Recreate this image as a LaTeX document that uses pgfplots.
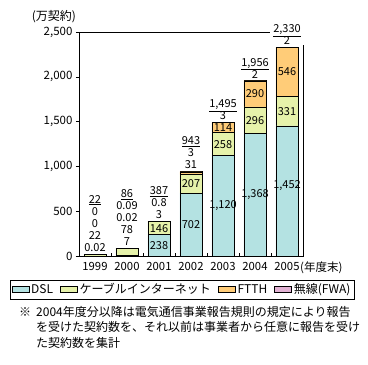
\documentclass[border=0pt]{standalone}
\usepackage{pgfplots}
\pgfplotsset{compat=1.18}
\usepackage{fontspec}
\setmainfont{Noto Sans CJK JP}
\definecolor{dsl}{RGB}{180,226,226}
\definecolor{cab}{RGB}{230,242,170}
\definecolor{ftth}{RGB}{255,204,120}
\definecolor{fwa}{RGB}{226,178,212}
\newcommand\nf{\fontsize{11}{12}\selectfont}
\newcommand\jf{\fontsize{12}{15.5}\selectfont}
\newcommand\ul[1]{\raisebox{0pt}[\height][0pt]{\underline{#1}}}
\tikzset{inl/.style={font=\nf, inner sep=0pt},
  tb/.style={anchor=south, yshift=2pt, inner xsep=3.5pt, inner ysep=0.5pt, fill=white, align=center, font=\nf}}
\begin{document}
\begin{tikzpicture}
\useasboundingbox (0pt,0pt) rectangle (368pt,-365pt);
\begin{axis}[
  at={(79pt,-256pt)}, anchor=south west,
  scale only axis, width=224pt, height=224pt,
  ybar stacked, bar width=22pt,
  xmin=-0.5, xmax=6.5, ymin=0, ymax=2500,
  xtick={0,...,6}, xticklabels={1999,2000,2001,2002,2003,2004,2005},
  minor xtick={0.5,1.5,...,5.5},
  ytick={0,500,...,2500},
  xtick pos=bottom, ytick pos=left,
  tick align=outside, major tick length=3pt, minor tick length=3pt,
  major x tick style={draw=none},
  minor x tick style={yshift=3pt},
  tick style={black, line width=0.6pt},
  axis line style={black, line width=0.7pt},
  scaled y ticks=false,
  y tick label style={font=\fontsize{11.5}{12}\selectfont, /pgf/number format/1000 sep={,}, /pgf/number format/assume math mode=true},
  x tick label style={font=\fontsize{11.3}{12}\selectfont},
  legend style={at={(0.46,-0.1496)}, anchor=center, draw=black, line width=0.6pt,
    font=\fontsize{12}{14}\selectfont, inner sep=1.5pt,
    /tikz/every even column/.append style={column sep=5pt}},
  legend columns=4,
  area legend,
]
\addplot[fill=dsl, draw=black, line width=0.5pt] coordinates {(0,0.02) (1,7) (2,238) (3,702) (4,1120) (5,1368) (6,1452)};
\addplot[fill=cab, draw=black, line width=0.5pt] coordinates {(0,22) (1,78) (2,146) (3,207) (4,258) (5,296) (6,331)};
\addplot[fill=ftth, draw=black, line width=0.5pt] coordinates {(0,0) (1,0.02) (2,3) (3,31) (4,114) (5,290) (6,546)};
\addplot[fill=fwa, draw=black, line width=0.5pt] coordinates {(0,0) (1,0.09) (2,0.8) (3,3) (4,3) (5,2) (6,2)};
\legend{DSL,ケーブルインターネット,FTTH,無線(FWA)}
\coordinate (t0) at (axis cs:0,22);
\coordinate (t1) at (axis cs:1,86);
\coordinate (t2) at (axis cs:2,387);
\coordinate (t3) at (axis cs:3,943);
\coordinate (t4) at (axis cs:4,1495);
\coordinate (t5) at (axis cs:5,1956);
\coordinate (t6) at (axis cs:6,2330);
\coordinate (c1) at (axis cs:2,311);
\coordinate (c2) at (axis cs:2,119);
\coordinate (c3) at (axis cs:3,805);
\coordinate (c4) at (axis cs:3,351);
\coordinate (c5) at (axis cs:4,1435);
\coordinate (c6) at (axis cs:4,1249);
\coordinate (c7) at (axis cs:4,560);
\coordinate (c8) at (axis cs:5,1809);
\coordinate (c9) at (axis cs:5,1516);
\coordinate (c10) at (axis cs:5,684);
\coordinate (c11) at (axis cs:6,2056);
\coordinate (c12) at (axis cs:6,1617);
\coordinate (c13) at (axis cs:6,790);
\end{axis}
\node[inl] at (c1) {146};
\node[inl] at (c2) {238};
\node[inl] at (c3) {207};
\node[inl] at (c4) {702};
\node[inl] at (c5) {114};
\node[inl] at (c6) {258};
\node[inl] at (c7) {1,120};
\node[inl] at (c8) {290};
\node[inl] at (c9) {296};
\node[inl] at (c10) {1,368};
\node[inl] at (c11) {546};
\node[inl] at (c12) {331};
\node[inl] at (c13) {1,452};
\node[tb] at (t0) {\ul{22}\\0\\0\\22\\0.02};
\node[tb] at (t1) {\ul{86}\\0.09\\0.02\\78\\7};
\node[tb] at (t2) {\ul{387}\\0.8\\3};
\node[tb] at (t3) {\ul{943}\\3\\31};
\node[tb] at (t4) {\ul{1,495}\\3};
\node[tb] at (t5) {\ul{1,956}\\2};
\node[tb] at (t6) {\ul{2,330}\\2};
\node[font=\fontsize{12}{12}\selectfont] at (54pt,-17pt) {(万契約)};
\node[font=\fontsize{11.5}{12}\selectfont, anchor=base west, inner sep=0pt] at (300pt,-271pt) {(年度末)};
\node[font=\jf, anchor=base west, inner sep=0pt] at (19pt,-316pt) {※};
\node[font=\jf, anchor=base west, inner sep=0pt] at (36pt,-316pt) {2004年度分以降は電気通信事業報告規則の規定により報告};
\node[font=\jf, anchor=base west, inner sep=0pt] at (36pt,-331.5pt) {を受けた契約数を、それ以前は事業者から任意に報告を受け};
\node[font=\jf, anchor=base west, inner sep=0pt] at (36pt,-347pt) {た契約数を集計};
\end{tikzpicture}
\end{document}
